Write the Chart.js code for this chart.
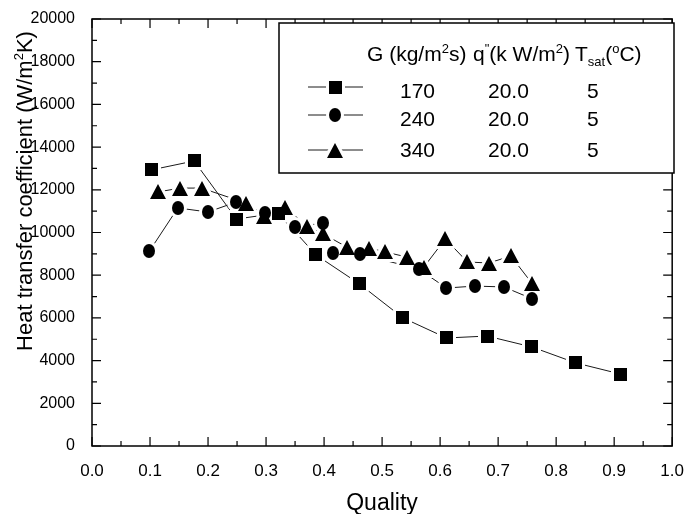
<!DOCTYPE html>
<html>
<head>
<meta charset="utf-8">
<script src="https://cdn.jsdelivr.net/npm/chart.js@4.4.1/dist/chart.umd.min.js"></script>
<style>
  html, body { margin: 0; padding: 0; background: #fff; }
</style>
</head>
<body>
<canvas id="htc" width="691" height="514" style="width:691px;height:514px"></canvas>
<script>
// values
const quality170 = [0.102, 0.176, 0.249, 0.321, 0.386, 0.461, 0.536, 0.611, 0.681, 0.758, 0.834, 0.911];
const htc170     = [12930, 13350, 10630, 10910, 8950, 7590, 6000, 5060, 5150, 4640, 3890, 3370];

const quality240 = [0.099, 0.148, 0.200, 0.249, 0.299, 0.350, 0.398, 0.415, 0.462, 0.563, 0.611, 0.660, 0.710, 0.759];
const htc240     = [9130, 11150, 10960, 11430, 10910, 10260, 10440, 9040, 8990, 8290, 7400, 7490, 7450, 6890];

const quality340 = [0.114, 0.152, 0.189, 0.265, 0.297, 0.333, 0.370, 0.399, 0.439, 0.478, 0.505, 0.543, 0.572, 0.609, 0.647, 0.684, 0.722, 0.758];
const htc340     = [11900, 12080, 12080, 11380, 10770, 11190, 10300, 9930, 9320, 9270, 9090, 8850, 8380, 9700, 8620, 8570, 8900, 7630];

const xTicks = [0, 0.1, 0.2, 0.3, 0.4, 0.5, 0.6, 0.7, 0.8, 0.9, 1.0];
const xTickLabels = ['0.0', '0.1', '0.2', '0.3', '0.4', '0.5', '0.6', '0.7', '0.8', '0.9', '1.0'];
const yTicks = [0, 2000, 4000, 6000, 8000, 10000, 12000, 14000, 16000, 18000, 20000];
const yTickLabels = ['0', '2000', '4000', '6000', '8000', '10000', '12000', '14000', '16000', '18000', '20000'];

const legendG = ['170', '240', '340'];
const legendQ = ['20.0', '20.0', '20.0'];
const legendT = ['5', '5', '5'];

const FONT = "'Liberation Sans', Arial, Helvetica, sans-serif";

// marker glyphs; pad > 0 gives a white halo so lines stop short of the symbol
function marker(kind, pad, color) {
  const c = document.createElement('canvas');
  const g = c.getContext('2d');
  const w = kind === 'square' ? 13 : (kind === 'circle' ? 12 : 16);
  const h = kind === 'square' ? 13 : (kind === 'circle' ? 14 : 15);
  c.width = w + pad * 2; c.height = h + pad * 2;
  g.fillStyle = color;
  g.strokeStyle = color;
  g.lineWidth = pad * 2;
  g.lineJoin = 'round';
  g.beginPath();
  if (kind === 'square') {
    g.rect(pad, pad, w, h);
  } else if (kind === 'circle') {
    g.ellipse(pad + w / 2, pad + h / 2, w / 2, h / 2, 0, 0, Math.PI * 2);
  } else {
    g.moveTo(pad + w / 2, pad);
    g.lineTo(pad + w, pad + h);
    g.lineTo(pad, pad + h);
    g.closePath();
  }
  g.fill();
  if (pad > 0) g.stroke();
  return c;
}
const kinds = ['square', 'circle', 'triangle'];
const markers = kinds.map(k => marker(k, 0, '#000'));
const halos = kinds.map(k => marker(k, 3, '#fff'));

function pts(xs, ys) {
  return xs.map((x, i) => ({x: x, y: ys[i]}));
}

function series(label, xs, ys) {
  return {
    label: label,
    data: pts(xs, ys),
    showLine: true,
    borderColor: '#1a1a1a',
    borderWidth: 1,
    pointRadius: 0
  };
}

// draws text pieces with superscripts/subscripts, returns width
function rich(ctx, x, y, parts, size, measureOnly) {
  let cx = x;
  parts.forEach(p => {
    const s = p.sup || p.sub ? Math.round(size * 0.6) : size;
    ctx.font = s + 'px ' + FONT;
    const dy = p.sup ? -size * 0.4 : (p.sub ? size * 0.25 : 0);
    if (!measureOnly) ctx.fillText(p.t, cx, y + dy);
    cx += ctx.measureText(p.t).width;
  });
  return cx - x;
}

function stamp(ctx, img, x, y) {
  ctx.drawImage(img, Math.round(x - img.width / 2), Math.round(y - img.height / 2));
}

const symbols = {
  id: 'symbols',
  afterDatasetsDraw(chart) {
    const ctx = chart.ctx;
    ctx.save();
    // halos first (cut the lines), then the black symbols on top
    chart.data.datasets.forEach((d, i) => {
      chart.getDatasetMeta(i).data.forEach(p => stamp(ctx, halos[i], p.x, p.y));
    });
    chart.data.datasets.forEach((d, i) => {
      chart.getDatasetMeta(i).data.forEach(p => stamp(ctx, markers[i], p.x, p.y));
    });
    ctx.restore();
  }
};

const frame = {
  id: 'frame',
  afterDraw(chart) {
    const ctx = chart.ctx;
    const xs = chart.scales.x, ys = chart.scales.y;
    const a = chart.chartArea;
    ctx.save();
    ctx.strokeStyle = '#000';
    ctx.lineWidth = 1.5;
    ctx.strokeRect(a.left, a.top, a.right - a.left, a.bottom - a.top);

    ctx.lineWidth = 1.2;
    const major = 9, minor = 5;
    ctx.beginPath();
    xTicks.forEach((v, i) => {
      const px = xs.getPixelForValue(v);
      ctx.moveTo(px, a.bottom); ctx.lineTo(px, a.bottom - major);
      ctx.moveTo(px, a.top); ctx.lineTo(px, a.top + major);
      if (i < xTicks.length - 1) {
        const mx = xs.getPixelForValue((v + xTicks[i + 1]) / 2);
        ctx.moveTo(mx, a.bottom); ctx.lineTo(mx, a.bottom - minor);
        ctx.moveTo(mx, a.top); ctx.lineTo(mx, a.top + minor);
      }
    });
    yTicks.forEach((v, i) => {
      const py = ys.getPixelForValue(v);
      ctx.moveTo(a.left, py); ctx.lineTo(a.left + major, py);
      ctx.moveTo(a.right, py); ctx.lineTo(a.right - major, py);
      if (i < yTicks.length - 1) {
        const my = ys.getPixelForValue((v + yTicks[i + 1]) / 2);
        ctx.moveTo(a.left, my); ctx.lineTo(a.left + minor, my);
        ctx.moveTo(a.right, my); ctx.lineTo(a.right - minor, my);
      }
    });
    ctx.stroke();

    // axis titles
    ctx.fillStyle = '#000';
    ctx.textBaseline = 'alphabetic';
    ctx.font = '23px ' + FONT;
    ctx.textAlign = 'center';
    ctx.fillText('Quality', 382, 510);

    ctx.textAlign = 'left';
    const yParts = [{t: 'Heat transfer coefficient (W/m'}, {t: '2', sup: true}, {t: 'K)'}];
    ctx.save();
    ctx.translate(32, 191);
    ctx.rotate(-Math.PI / 2);
    const w = rich(ctx, 0, 0, yParts, 22, true);
    rich(ctx, -w / 2, 0, yParts, 22, false);
    ctx.restore();

    // legend box
    ctx.fillStyle = '#fff';
    ctx.fillRect(279, 23, 395, 150);
    ctx.lineWidth = 1.5;
    ctx.strokeRect(279, 23, 395, 150);

    ctx.fillStyle = '#000';
    rich(ctx, 367, 61, [{t: 'G (kg/m'}, {t: '2', sup: true}, {t: 's)'}], 21);
    rich(ctx, 473, 61, [{t: 'q'}, {t: '"', sup: true}, {t: '(k W/m'}, {t: '2', sup: true}, {t: ')'}], 21);
    rich(ctx, 575, 61, [{t: 'T'}, {t: 'sat', sub: true}, {t: '('}, {t: 'o', sup: true}, {t: 'C)'}], 21);

    const rowLine = [87, 115, 150];
    const rowBase = [98, 126, 157];
    ctx.lineWidth = 1;
    ctx.strokeStyle = '#1a1a1a';
    ctx.font = '21px ' + FONT;
    legendG.forEach((g, i) => {
      ctx.beginPath();
      ctx.moveTo(308, rowLine[i]);
      ctx.lineTo(363, rowLine[i]);
      ctx.stroke();
      stamp(ctx, halos[i], 335, rowLine[i]);
      stamp(ctx, markers[i], 335, rowLine[i]);
      ctx.fillText(g, 400, rowBase[i]);
      ctx.fillText(legendQ[i], 488, rowBase[i]);
      ctx.fillText(legendT[i], 587, rowBase[i]);
    });
    ctx.restore();
  }
};

new Chart(document.getElementById('htc'), {
  type: 'scatter',
  data: {
    datasets: [
      series('170', quality170, htc170),
      series('240', quality240, htc240),
      series('340', quality340, htc340)
    ]
  },
  options: {
    responsive: false,
    animation: false,
    layout: { padding: { top: 19, right: 13, left: 0, bottom: 0 } },
    plugins: { legend: { display: false }, tooltip: { enabled: false } },
    scales: {
      x: {
        type: 'linear',
        min: 0,
        max: 1,
        afterBuildTicks: s => { s.ticks = xTicks.map(v => ({value: v})); },
        afterFit: s => { s.height = 68; },
        ticks: {
          callback: (v, i) => xTickLabels[i],
          font: { family: FONT, size: 17 },
          color: '#000',
          padding: 7,
          maxRotation: 0,
          autoSkip: false
        },
        grid: { display: false },
        border: { display: false }
      },
      y: {
        min: 0,
        max: 20000,
        afterBuildTicks: s => { s.ticks = yTicks.map(v => ({value: v})); },
        afterFit: s => { s.width = 92; },
        ticks: {
          callback: (v, i) => yTickLabels[i],
          font: { family: FONT, size: 16 },
          color: '#000',
          padding: 9,
          autoSkip: false
        },
        grid: { display: false },
        border: { display: false }
      }
    }
  },
  plugins: [symbols, frame]
});
</script>
</body>
</html>
